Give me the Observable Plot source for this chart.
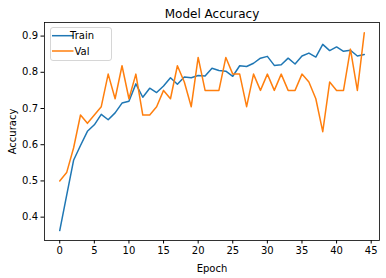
<!DOCTYPE html>
<html>
<head>
<meta charset="utf-8">
<script src="https://cdn.jsdelivr.net/npm/d3@7"></script>
<script src="https://cdn.jsdelivr.net/npm/@observablehq/plot@0.6"></script>
<style>
  html, body { margin: 0; padding: 0; background: white; }
</style>
</head>
<body>
<div id="chart"></div>
<script>
const epochs = d3.range(45);
const train = [0.363, 0.46, 0.557, 0.598, 0.637, 0.655, 0.684, 0.669, 0.688, 0.715, 0.720, 0.768, 0.731, 0.756, 0.744, 0.762, 0.785, 0.767, 0.787, 0.785, 0.791, 0.790, 0.811, 0.805, 0.803, 0.789, 0.818, 0.816, 0.825, 0.839, 0.844, 0.819, 0.821, 0.839, 0.823, 0.845, 0.853, 0.842, 0.877, 0.860, 0.870, 0.858, 0.861, 0.845, 0.849];
const val = [0.500, 0.523, 0.591, 0.682, 0.659, 0.682, 0.705, 0.795, 0.727, 0.818, 0.727, 0.795, 0.682, 0.682, 0.705, 0.750, 0.727, 0.818, 0.773, 0.705, 0.841, 0.750, 0.750, 0.750, 0.841, 0.795, 0.795, 0.705, 0.795, 0.750, 0.795, 0.750, 0.795, 0.750, 0.750, 0.795, 0.773, 0.727, 0.636, 0.773, 0.750, 0.750, 0.864, 0.750, 0.909];
const xTicks = [0, 5, 10, 15, 20, 25, 30, 35, 40, 45];
const yTicks = [0.4, 0.5, 0.6, 0.7, 0.8, 0.9];
const seriesNames = ["Train", "Val"];
const seriesColors = ["#1f77b4", "#ff7f0e"];

const rows = [];
epochs.forEach((e, i) => {
  rows.push({epoch: e, acc: train[i], series: "Train"});
  rows.push({epoch: e, acc: val[i], series: "Val"});
});

const chart = Plot.plot({
  width: 386,
  height: 278,
  marginLeft: 44,
  marginRight: 7,
  marginTop: 22,
  marginBottom: 38,
  style: {fontFamily: "DejaVu Sans", fontSize: "10px", color: "black", background: "white"},
  x: {domain: [-2.2, 46.2]},
  y: {domain: [0.3355, 0.9375]},
  color: {domain: seriesNames, range: seriesColors},
  marks: [
    Plot.axisX({ticks: xTicks, tickSize: 3.5, tickPadding: 3, label: "Epoch", labelAnchor: "center", labelArrow: "none", labelOffset: 31, fontSize: 10}),
    Plot.axisY({ticks: yTicks, tickSize: 3.5, tickPadding: 3, tickFormat: d3.format(".1f"), label: "Accuracy", labelAnchor: "center", labelArrow: "none", labelOffset: 36, fontSize: 10}),
    Plot.line(rows, {x: "epoch", y: "acc", z: "series", stroke: "series", strokeWidth: 1.5}),
    Plot.frame({stroke: "black", strokeWidth: 0.8}),
    Plot.text(["Model Accuracy"], {frameAnchor: "top", lineAnchor: "bottom", dy: -5, fontSize: 12})
  ]
});
document.getElementById("chart").appendChild(chart);

// legend
const svg = d3.select(chart);
const lg = svg.append("g").attr("transform", "translate(50.5,27.5)");
lg.append("rect").attr("width", 61).attr("height", 33).attr("rx", 2.5)
  .attr("fill", "white").attr("fill-opacity", 0.8).attr("stroke", "#cccccc").attr("stroke-width", 0.8);
seriesNames.forEach((name, i) => {
  const y = 8.2 + i * 15.3;
  lg.append("line").attr("x1", 1.5).attr("x2", 23).attr("y1", y).attr("y2", y)
    .attr("stroke", seriesColors[i]).attr("stroke-width", 1.5);
  lg.append("text").attr("x", 31.5).attr("y", y).attr("dy", "0.35em")
    .attr("font-family", "DejaVu Sans").attr("font-size", 10).attr("fill", "black").text(name);
});
</script>
</body>
</html>
